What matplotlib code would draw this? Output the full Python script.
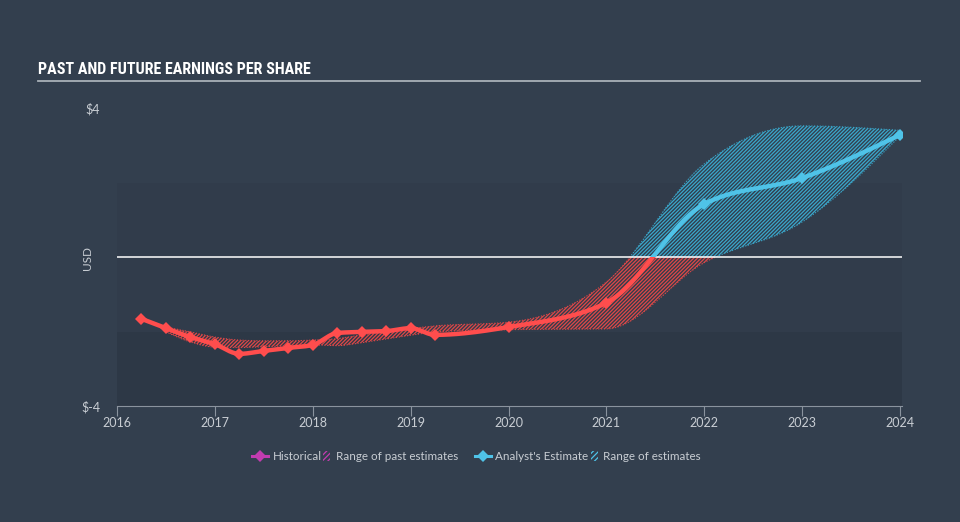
import numpy as np
import matplotlib
matplotlib.use("Agg")
import matplotlib.pyplot as plt
from matplotlib.patches import Rectangle
from matplotlib.lines import Line2D
from matplotlib import font_manager

# ---------------- data ----------------
eps_dates = [2016.25, 2016.5, 2016.75, 2017.0, 2017.25, 2017.5, 2017.75, 2018.0,
             2018.25, 2018.5, 2018.75, 2019.0, 2019.25, 2020.0, 2021.0,
             2022.0, 2023.0, 2024.0]
eps_values = [-1.66, -1.91, -2.15, -2.34, -2.60, -2.52, -2.44, -2.36,
              -2.04, -2.01, -1.99, -1.91, -2.09, -1.88, -1.23,
              1.42, 2.12, 3.28]

band_dates = [2016.5, 2016.75, 2017.0, 2017.25, 2017.5, 2017.75, 2018.0,
              2018.25, 2018.5, 2018.75, 2019.0, 2019.25, 2020.0, 2021.0,
              2022.0, 2023.0, 2024.0]
band_low = [-2.01, -2.28, -2.42, -2.43, -2.41, -2.38, -2.36,
            -2.38, -2.30, -2.20, -2.10, -2.01, -1.95, -1.93,
            -0.15, 0.94, 3.25]
band_high = [-1.88, -2.01, -2.15, -2.23, -2.25, -2.25, -2.23,
             -2.19, -2.09, -2.00, -1.92, -1.85, -1.75, -0.67,
             2.50, 3.52, 3.40]

year_ticks = [2016, 2017, 2018, 2019, 2020, 2021, 2022, 2023, 2024]
y_ticks = [-4, 4]
y_tick_labels = ["$-4", "$4"]

# ---------------- style ----------------
BG = "#333f4e"
BAND_MID = "#313c4b"
BAND_LOW = "#2d3846"
RED = "#ff4d4d"
BLUE = "#4fc3e8"
RED_HATCH = "#e04848"
BLUE_HATCH = "#3aa8cc"
PINK = "#c33cb0"
TXT = "#c8cdd3"

plt.rcParams["hatch.linewidth"] = 0.9

# pick a condensed family for the title if one is installed
_names = {f.name for f in font_manager.fontManager.ttflist}
_title_fams = [n for n in ("Liberation Sans Narrow", "DejaVu Sans Condensed",
                           "Roboto Condensed", "Open Sans Condensed")
               if n in _names] + ["DejaVu Sans"]
print("available condensed:", _title_fams)


def monotone(x, y, n=30):
    """Monotone cubic (d3 curveMonotoneX style) rendering of a polyline."""
    x = np.asarray(x, float)
    y = np.asarray(y, float)
    h = np.diff(x)
    s = np.diff(y) / h
    m = np.zeros_like(y)
    for k in range(1, len(x) - 1):
        p = (s[k - 1] * h[k] + s[k] * h[k - 1]) / (h[k - 1] + h[k])
        m[k] = (np.sign(s[k - 1]) + np.sign(s[k])) * min(abs(s[k - 1]), abs(s[k]), 0.5 * abs(p))
    m[0] = (3 * s[0] - m[1]) / 2 if len(x) > 2 else s[0]
    m[-1] = (3 * s[-1] - m[-2]) / 2 if len(x) > 2 else s[-1]
    xs, ys = [], []
    for k in range(len(x) - 1):
        t = np.linspace(0, 1, n, endpoint=(k == len(x) - 2))
        h00 = 2 * t**3 - 3 * t**2 + 1
        h10 = t**3 - 2 * t**2 + t
        h01 = -2 * t**3 + 3 * t**2
        h11 = t**3 - t**2
        xs.append(x[k] + t * h[k])
        ys.append(h00 * y[k] + h10 * h[k] * m[k] + h01 * y[k + 1] + h11 * h[k] * m[k + 1])
    return np.concatenate(xs), np.concatenate(ys)


fig = plt.figure(figsize=(9.6, 5.22), dpi=100, facecolor=BG)
W, H = 960.0, 522.0
ax = fig.add_axes([117 / W, 1 - 406 / H, (902 - 117) / W, (406 - 108) / H])
ax.set_facecolor(BG)
ax.set_xlim(2016, 2024.02)
ax.set_ylim(-4, 4)

ax.axhspan(-2, 2, color=BAND_MID, lw=0, zorder=0)
ax.axhspan(-4, -2, color=BAND_LOW, lw=0, zorder=0)

neg_clip = Rectangle((2000, -100), 50, 100, transform=ax.transData)
pos_clip = Rectangle((2000, 0), 50, 100, transform=ax.transData)

# range bands
bx, blo = monotone(band_dates, band_low)
_, bhi = monotone(band_dates, band_high)
for col, clip in ((RED_HATCH, neg_clip), (BLUE_HATCH, pos_clip)):
    poly = ax.fill_between(bx, blo, bhi, facecolor="none", edgecolor=col,
                           hatch="/////////", lw=0, zorder=2)
    poly.set_clip_path(clip)
    for yy in (blo, bhi):
        ln, = ax.plot(bx, yy, color=col, lw=0.8, ls=(0, (1, 1.5)), zorder=2)
        ln.set_clip_path(clip)

# zero line
ax.axhline(0, color="#ffffff", lw=1.1, zorder=3)

# EPS line
lx, ly = monotone(eps_dates, eps_values, n=20)
for col, clip in ((RED, neg_clip), (BLUE, pos_clip)):
    ln, = ax.plot(lx, ly, color=col, lw=3.2, solid_capstyle="round", zorder=4)
    ln.set_clip_path(clip)

ed = np.array(eps_dates)
ev = np.array(eps_values)
neg = ev < 0
ax.plot(ed[neg], ev[neg], ls="none", marker="D", ms=6.5, color=RED, mew=0, zorder=5)
ax.plot(ed[~neg], ev[~neg], ls="none", marker="D", ms=6, color=BLUE, mew=0, zorder=5)

# axes styling
for sp in ("top", "right", "left"):
    ax.spines[sp].set_visible(False)
ax.spines["bottom"].set_color("#8a939e")
ax.spines["bottom"].set_linewidth(0.8)
ax.set_xticks(year_ticks)
ax.set_xticklabels([str(y) for y in year_ticks])
ax.tick_params(axis="x", colors="#8a939e", labelcolor=TXT, length=7, width=0.8,
               labelsize=9, pad=1)
ax.set_yticks(y_ticks)
ax.set_yticklabels(y_tick_labels)
ax.tick_params(axis="y", length=0, labelcolor=TXT, labelsize=9, pad=12)
for lab in ax.get_xticklabels() + ax.get_yticklabels():
    lab.set_family(["Lato", "DejaVu Sans"])

fig.text(88 / W, 1 - 258 / H, "USD", rotation=90, ha="center", va="center",
         color=TXT, fontsize=8.5, family=["Lato", "DejaVu Sans"])

# title
fig.text(38 / W, 1 - 69 / H, "PAST AND FUTURE EARNINGS PER SHARE", ha="left",
         va="center", color="#ffffff", fontsize=11.5, fontweight="bold",
         fontstretch="condensed", family=_title_fams)
fig.add_artist(Line2D([38 / W, 920 / W], [1 - 81 / H, 1 - 81 / H],
                      color="#a9b0b8", lw=1.3))

# legend (manual)
ly_ = 1 - 456 / H
fs = 8.4
fam = ["Lato", "DejaVu Sans"]


def diamond(xc, col):
    fig.add_artist(Line2D([(xc - 8) / W, (xc + 8) / W], [ly_, ly_], color=col, lw=2.2))
    fig.add_artist(Line2D([xc / W], [ly_], marker="D", ms=6, color=col, mew=0, ls="none"))


def swatch(x0, col):
    fig.add_artist(Rectangle((x0 / W, ly_ - 5 / H), 7 / W, 10 / H, facecolor="none",
                             edgecolor=col, hatch="//////", lw=0,
                             transform=fig.transFigure))


diamond(260, PINK)
fig.text(273 / W, ly_, "Historical", color=TXT, fontsize=fs, va="center", family=fam)
swatch(323, PINK)
fig.text(336 / W, ly_, "Range of past estimates", color=TXT, fontsize=fs, va="center", family=fam)
diamond(483, BLUE)
fig.text(495 / W, ly_, "Analyst's Estimate", color=TXT, fontsize=fs, va="center", family=fam)
swatch(591, BLUE)
fig.text(603 / W, ly_, "Range of estimates", color=TXT, fontsize=fs, va="center", family=fam)

fig.savefig("out.png", dpi=100, facecolor=BG)
